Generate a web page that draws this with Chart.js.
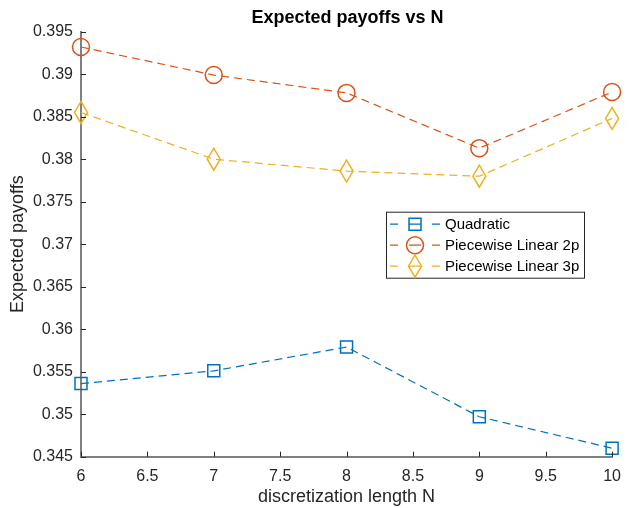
<!DOCTYPE html>
<html>
<head>
<meta charset="utf-8">
<script src="https://cdn.jsdelivr.net/npm/chart.js@4.4.0/dist/chart.umd.min.js"></script>
<style>
  html, body { margin: 0; padding: 0; background: #fff; }
  #chart { display: block; }
</style>
</head>
<body>
<canvas id="chart" width="631" height="508"></canvas>
<script>
// Datos
const nValues = [6, 7, 8, 9, 10];
const quadratic = [0.3536, 0.3551, 0.3579, 0.3497, 0.3460];
const linear2p = [0.3932, 0.3899, 0.3878, 0.3813, 0.3879];
const linear3p = [0.3855, 0.3800, 0.3786, 0.3780, 0.3848];

const xTicks = [6, 6.5, 7, 7.5, 8, 8.5, 9, 9.5, 10];
const yTicks = [0.345, 0.35, 0.355, 0.36, 0.365, 0.37, 0.375, 0.38, 0.385, 0.39, 0.395];

const FONT = "'Liberation Sans', Arial, Helvetica, sans-serif";
const AXIS_COLOR = '#262626';
const MARKER_LW = 1.5;

// Marcador rombo (MATLAB 'd'): más alto que ancho
function drawDiamond(ctx, x, y, color) {
    ctx.save();
    ctx.strokeStyle = color;
    ctx.lineWidth = MARKER_LW;
    ctx.beginPath();
    ctx.moveTo(x, y - 11);
    ctx.lineTo(x + 6.5, y);
    ctx.lineTo(x, y + 11);
    ctx.lineTo(x - 6.5, y);
    ctx.closePath();
    ctx.stroke();
    ctx.restore();
}

function drawMarker(ctx, shape, x, y, color) {
    if (shape === 'diamond') return drawDiamond(ctx, x, y, color);
    ctx.save();
    ctx.strokeStyle = color;
    ctx.lineWidth = MARKER_LW;
    ctx.beginPath();
    if (shape === 'square') ctx.rect(x - 6, y - 6, 12, 12);
    else ctx.arc(x, y, 8.5, 0, Math.PI * 2);
    ctx.stroke();
    ctx.restore();
}

const series = [
    { label: 'Quadratic', values: quadratic, color: '#0072BD', shape: 'square' },
    { label: 'Piecewise Linear 2p', values: linear2p, color: '#D95319', shape: 'circle' },
    { label: 'Piecewise Linear 3p', values: linear3p, color: '#EDB120', shape: 'diamond' }
];

const datasets = series.map(s => ({
    label: s.label,
    data: nValues.map((n, i) => ({ x: n, y: s.values[i] })),
    borderColor: s.color,
    borderWidth: 1.2,
    borderDash: [8, 5],
    pointStyle: s.shape === 'square' ? 'rect' : 'circle',
    pointRadius: s.shape === 'diamond' ? 0 : (s.shape === 'square' ? 8.49 : 8.5),
    pointBorderWidth: MARKER_LW,
    pointBorderColor: s.color,
    pointBackgroundColor: 'rgba(0,0,0,0)',
    fill: false,
    tension: 0,
    clip: false,
    shape: s.shape
}));

// Ticks hacia adentro + título + leyenda
const matlabDecor = {
    id: 'matlabDecor',
    afterDatasetDraw(chart, args) {
        const ds = chart.data.datasets[args.index];
        if (ds.shape !== 'diamond') return;
        args.meta.data.forEach(pt => drawDiamond(chart.ctx, pt.x, pt.y, ds.borderColor));
    },
    afterDraw(chart) {
        const { ctx, chartArea: ca, scales } = chart;
        ctx.save();
        ctx.strokeStyle = AXIS_COLOR;
        ctx.lineWidth = 1;
        ctx.beginPath();
        xTicks.forEach(v => {
            const px = Math.round(scales.x.getPixelForValue(v)) + 0.5;
            ctx.moveTo(px, ca.bottom);
            ctx.lineTo(px, ca.bottom - 5);
        });
        yTicks.forEach(v => {
            const py = Math.round(scales.y.getPixelForValue(v)) + 0.5;
            ctx.moveTo(ca.left, py);
            ctx.lineTo(ca.left + 5, py);
        });
        ctx.stroke();

        // Título
        ctx.fillStyle = '#000';
        ctx.font = 'bold 18px ' + FONT;
        ctx.textAlign = 'center';
        ctx.textBaseline = 'alphabetic';
        ctx.fillText('Expected payoffs vs N', (ca.left + ca.right) / 2 + 1, 23);

        // Leyenda
        const lx = ca.left + 305, ly = ca.top + 180, lw = 198, lh = 66;
        ctx.fillStyle = '#fff';
        ctx.fillRect(lx, ly, lw, lh);
        ctx.strokeStyle = AXIS_COLOR;
        ctx.lineWidth = 1;
        ctx.strokeRect(lx + 0.5, ly + 0.5, lw, lh);
        chart.data.datasets.forEach((ds, i) => {
            const cy = ly + 12.5 + i * 21;
            const mx = lx + 29;
            ctx.strokeStyle = ds.borderColor;
            ctx.lineWidth = 1.2;
            ctx.beginPath();
            ctx.moveTo(lx + 4, cy); ctx.lineTo(lx + 12, cy);
            ctx.moveTo(mx - 6, cy); ctx.lineTo(mx + 6, cy);
            ctx.moveTo(lx + 46, cy); ctx.lineTo(lx + 54, cy);
            ctx.stroke();
            drawMarker(ctx, ds.shape, mx, cy, ds.borderColor);
            ctx.fillStyle = '#000';
            ctx.font = '15px ' + FONT;
            ctx.textAlign = 'left';
            ctx.textBaseline = 'middle';
            ctx.fillText(ds.label, lx + 59, cy + 1);
        });
        ctx.restore();
    }
};

const fmt = v => String(Number(v.toFixed(3)));

new Chart(document.getElementById('chart'), {
    type: 'line',
    data: { datasets },
    options: {
        responsive: false,
        animation: false,
        events: [],
        layout: { padding: { top: 31.7, right: 11.7, left: 0, bottom: 0 } },
        plugins: { legend: { display: false }, title: { display: false }, tooltip: { enabled: false } },
        scales: {
            x: {
                type: 'linear',
                min: 6, max: 10,
                afterBuildTicks: s => { s.ticks = xTicks.map(v => ({ value: v })); },
                afterFit: s => { s.height = 51.3; },
                grid: { display: false, drawTicks: false },
                border: { display: true, color: '#808080', width: 2 },
                ticks: { color: AXIS_COLOR, font: { size: 16, family: FONT }, padding: 10, maxRotation: 0, autoSkip: false, callback: v => fmt(v) },
                title: { display: true, text: 'discretization length N', color: AXIS_COLOR, font: { size: 18, family: FONT }, padding: { top: 0, bottom: 0 } }
            },
            y: {
                type: 'linear',
                min: 0.345, max: 0.395,
                afterBuildTicks: s => { s.ticks = yTicks.map(v => ({ value: v })); },
                afterFit: s => { s.width = 81; },
                grid: { display: false, drawTicks: false },
                border: { display: true, color: '#808080', width: 2 },
                ticks: { color: AXIS_COLOR, font: { size: 16, family: FONT }, padding: 8, autoSkip: false, callback: v => fmt(v) },
                title: { display: true, text: 'Expected payoffs', color: AXIS_COLOR, font: { size: 18, family: FONT }, padding: { top: 7, bottom: 0 } }
            }
        }
    },
    plugins: [matlabDecor]
});
</script>
</body>
</html>
